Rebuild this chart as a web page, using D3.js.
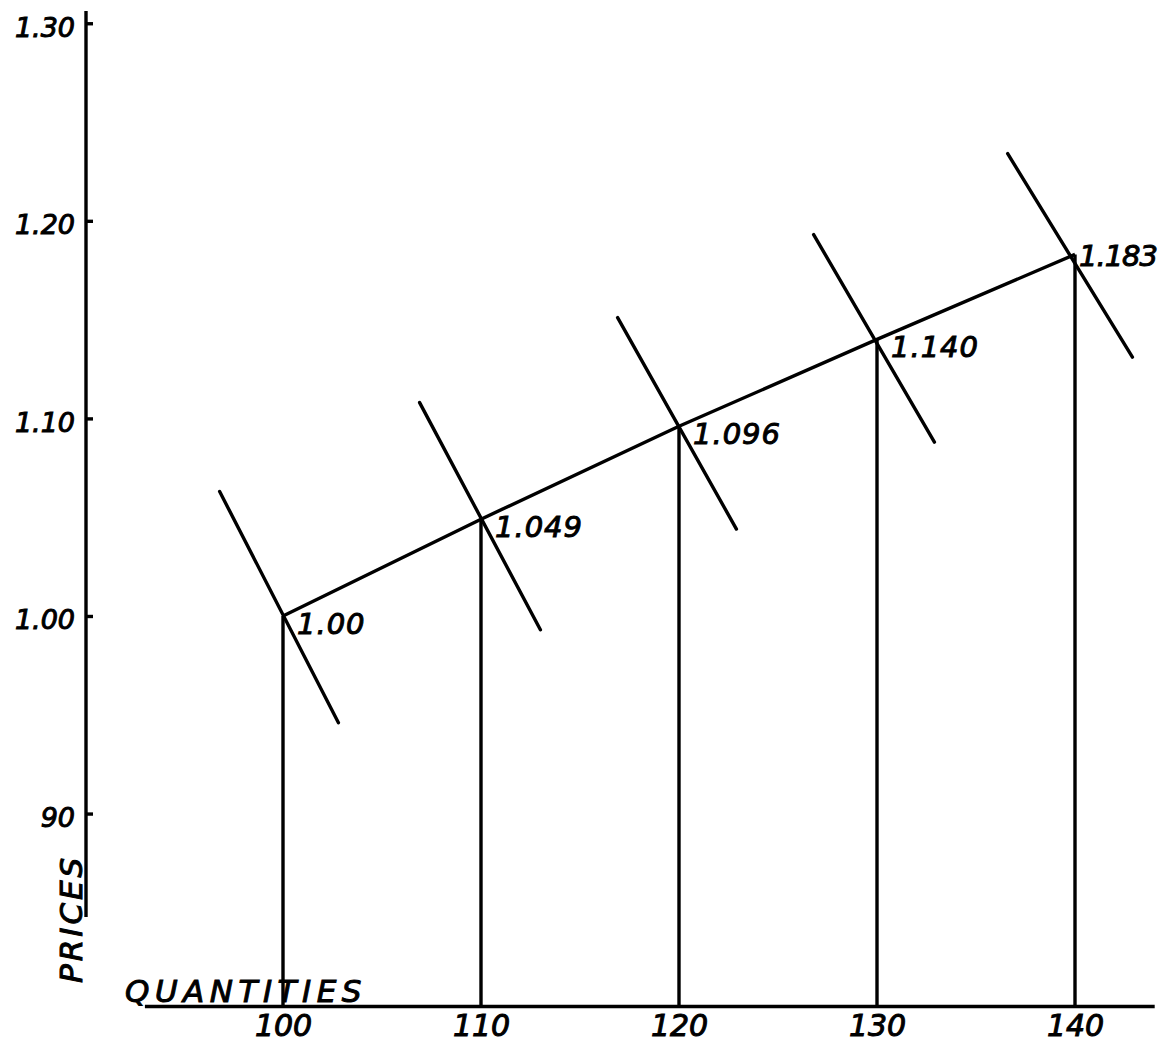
<!DOCTYPE html>
<html>
<head>
<meta charset="utf-8">
<script src="https://cdn.jsdelivr.net/npm/d3@7"></script>
<style>
  html, body { margin: 0; padding: 0; background: #fff; }
  svg { display: block; }
  text { font-family: "DejaVu Sans", sans-serif; font-style: italic; fill: #000; }
</style>
</head>
<body>
<svg id="chart" width="1163" height="1045"></svg>
<script>
// ---- data ----
const quantities = [100, 110, 120, 130, 140];
const prices = [1.00, 1.049, 1.096, 1.140, 1.183];
const priceLabels = ["1.00", "1.049", "1.096", "1.140", "1.183"];

const yTickValues = [1.30, 1.20, 1.10, 1.00, 0.90];
const yTickLabels = ["1.30", "1.20", "1.10", "1.00", "90"];
const xTickValues = [100, 110, 120, 130, 140];
const xTickLabels = ["100", "110", "120", "130", "140"];

// crossing (demand) lines through each point: upper-left and lower-right ends
const curveUpperQ = [96.8, 106.9, 116.9, 126.8, 136.6];
const curveUpperP = [1.063, 1.108, 1.151, 1.193, 1.234];
const curveLowerQ = [102.8, 113.0, 122.9, 132.9, 142.9];
const curveLowerP = [0.946, 0.993, 1.044, 1.088, 1.131];

const xTitle = "QUANTITIES";
const yTitle = "PRICES";

// ---- drawing ----
const svg = d3.select("#chart");
const x = d3.scaleLinear().domain([93, 144]).range([144.4, 1154.2]);
const y = d3.scaleLinear().domain([0.8026, 1.3062]).range([1006, 11]);

const ink = "#000";
const lw = 3.4;
const textStroke = 1.0;

// Y axis
const yAxisX = 86;
const yAxis = d3.axisLeft(y)
  .tickValues(yTickValues)
  .tickFormat((d, i) => yTickLabels[i])
  .tickSizeInner(-7)
  .tickSizeOuter(0)
  .tickPadding(11);
const gy = svg.append("g").attr("transform", `translate(${yAxisX},0)`).call(yAxis);
gy.select(".domain").remove();
gy.selectAll(".tick line").attr("stroke", ink).attr("stroke-width", lw);
gy.selectAll(".tick text")
  .attr("font-size", 27)
  .attr("font-family", "DejaVu Sans")
  .attr("font-style", "italic")
  .attr("dy", "0.48em")
  .attr("fill", ink)
  .attr("stroke", ink).attr("stroke-width", textStroke);
svg.append("line")
  .attr("x1", yAxisX).attr("x2", yAxisX)
  .attr("y1", y(1.3062)).attr("y2", 917)
  .attr("stroke", ink).attr("stroke-width", lw);

// X axis
const xAxis = d3.axisBottom(x)
  .tickValues(xTickValues)
  .tickFormat((d, i) => xTickLabels[i])
  .tickSizeInner(0)
  .tickSizeOuter(0)
  .tickPadding(9);
const gx = svg.append("g").attr("transform", `translate(0,${y(0.8026)})`).call(xAxis);
gx.select(".domain").attr("stroke", ink).attr("stroke-width", lw);
gx.selectAll(".tick line").remove();
gx.selectAll(".tick text")
  .attr("font-size", 30)
  .attr("font-family", "DejaVu Sans")
  .attr("font-style", "italic")
  .attr("fill", ink)
  .attr("stroke", ink).attr("stroke-width", textStroke);

// axis titles
svg.append("text")
  .attr("x", 125).attr("y", 1002)
  .attr("font-size", 31)
  .attr("letter-spacing", 5.5)
  .attr("stroke", ink).attr("stroke-width", textStroke)
  .text(xTitle);
svg.append("text")
  .attr("transform", "translate(82,983) rotate(-90)")
  .attr("font-size", 31)
  .attr("letter-spacing", 3)
  .attr("stroke", ink).attr("stroke-width", textStroke)
  .text(yTitle);

// vertical drop lines
svg.append("g").selectAll("line")
  .data(quantities)
  .join("line")
  .attr("x1", d => x(d)).attr("x2", d => x(d))
  .attr("y1", (d, i) => y(prices[i]))
  .attr("y2", y(0.8026))
  .attr("stroke", ink).attr("stroke-width", lw);

// crossing lines
svg.append("g").selectAll("line")
  .data(quantities)
  .join("line")
  .attr("x1", (d, i) => x(curveUpperQ[i])).attr("y1", (d, i) => y(curveUpperP[i]))
  .attr("x2", (d, i) => x(curveLowerQ[i])).attr("y2", (d, i) => y(curveLowerP[i]))
  .attr("stroke", ink).attr("stroke-width", lw).attr("stroke-linecap", "round");

// connecting line
const line = d3.line().x(d => x(d[0])).y(d => y(d[1]));
svg.append("path")
  .datum(quantities.map((q, i) => [q, prices[i]]))
  .attr("d", line)
  .attr("fill", "none")
  .attr("stroke", ink).attr("stroke-width", lw)
  .attr("stroke-linejoin", "round");

// point labels
const last = quantities.length - 1;
svg.append("g").selectAll("text")
  .data(priceLabels)
  .join("text")
  .attr("x", (d, i) => x(quantities[i]) + (i === last ? 4 : 14))
  .attr("y", (d, i) => y(prices[i]) + (i === last ? 12 : 18))
  .attr("font-size", 29)
  .attr("letter-spacing", (d, i) => i === last ? -1 : 1)
  .attr("stroke", ink).attr("stroke-width", textStroke)
  .text(d => d);
</script>
</body>
</html>
